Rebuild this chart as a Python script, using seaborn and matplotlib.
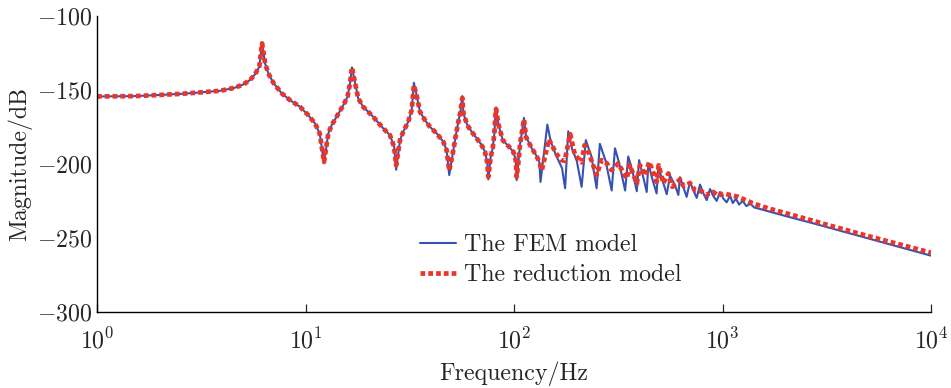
import matplotlib
matplotlib.use("Agg")
import matplotlib.pyplot as plt
import numpy as np
import pandas as pd
import seaborn as sns

# ---- frequency response data (Hz, dB) ----
# band below ~130 Hz, where both models coincide closely
freq_low = [1.0, 1.5, 2.0, 2.5, 3.12, 3.89, 4.59, 5.03, 5.42, 5.72, 6.0, 6.19,
            6.4, 6.63, 7.01, 7.69, 8.43, 9.41, 10.3, 11.1, 11.7, 12.27, 12.86,
            13.35, 14.1, 15.2, 15.9, 16.35, 16.7, 17.3, 17.9, 18.9, 21.1, 23.6,
            25.4, 26.6, 27.2, 28.4, 29.4, 31.1, 32.3, 33.1, 34.1, 35.4, 37.4,
            39.5, 42.6, 45.8, 47.5, 48.9, 51.2, 52.7, 54.1, 55.3, 56.5, 57.2,
            59.7, 62.7, 66.2, 69.5, 72.6, 74.5, 75.3, 77.3, 79.0, 80.5, 81.3,
            82.0, 84.2, 88.3, 94.0, 99.3, 101.9, 103.0, 105.0, 107.0, 108.9,
            111.6, 114.2, 121.7, 127.6]

fem_low_db = [-154.5, -154.3, -153.5, -152.8, -151.8, -150.7, -148.6, -146.4,
              -143.4, -139.6, -134.5, -118.7, -132.2, -138.9, -145.3, -152.4,
              -157.0, -161.5, -167.1, -172.7, -179.5, -199.5, -179.5, -173.9,
              -168.2, -160.3, -154.7, -145.7, -134.9, -145.7, -155.8, -161.5,
              -168.2, -176.1, -180.6, -188.5, -204.0, -184.0, -178.4, -171.6,
              -163.7, -145.3, -153.6, -164.9, -170.5, -175.0, -179.5, -185.1,
              -190.7, -207.6, -190.7, -180.0, -171.5, -165.0, -154.3, -166.0,
              -173.9, -178.4, -182.8, -186.7, -191.9, -199.7, -210.5, -195.3,
              -189.6, -179.5, -168.2, -162.0, -173.4, -184.0, -188.0, -191.9,
              -197.5, -211.0, -198.7, -186.2, -179.5, -169.0, -181.8, -189.6,
              -194.1]

red_low_db = [-154.5, -154.3, -153.5, -152.8, -151.8, -150.7, -148.6, -146.4,
              -143.4, -139.6, -134.5, -118.7, -132.2, -138.9, -145.3, -152.4,
              -157.0, -161.5, -167.1, -172.7, -179.5, -198.7, -179.5, -173.9,
              -168.2, -160.3, -154.7, -145.7, -134.9, -145.7, -155.8, -161.5,
              -168.2, -176.1, -180.6, -188.5, -201.0, -184.0, -178.4, -171.6,
              -163.7, -147.0, -153.6, -164.9, -170.5, -175.0, -179.5, -185.1,
              -190.7, -204.5, -190.7, -180.0, -171.5, -165.0, -155.5, -166.0,
              -173.9, -178.4, -182.8, -186.7, -191.9, -199.7, -208.8, -195.3,
              -189.6, -179.5, -168.2, -163.0, -173.4, -184.0, -188.0, -191.9,
              -197.5, -208.8, -198.7, -186.2, -179.5, -170.0, -181.8, -189.6,
              -194.1]

# band above ~130 Hz, where the dense modes separate the two models
fem_high_f = [132.2, 134.0, 144.5, 150, 160, 170, 175.8, 182, 190, 200, 211,
              221, 235, 249, 258, 275, 294, 305, 320, 341, 353, 370, 388, 398,
              415, 433, 441, 460, 483, 492, 515, 540, 560, 590, 614, 625, 650,
              673, 698, 725, 752, 780, 810, 840, 871, 905, 938, 972, 1010, 1047,
              1087, 1120, 1160, 1200, 1250, 1300, 1360, 1420, 1514, 2000, 2728,
              4000, 6000, 10000]
fem_high_db = [-198.7, -212.2, -173.5, -185, -195, -203, -216.5, -178, -190,
               -198, -215.5, -184, -195, -216.5, -186.5, -198, -218, -189.5,
               -200, -218, -195, -205, -218.5, -197.5, -208, -219, -199.7,
               -210, -220, -202, -211, -220.5, -208, -214, -221, -209, -216,
               -222.3, -212, -218, -223, -214, -220, -224.5, -217, -222, -225,
               -219, -223.5, -226, -221.5, -226.5, -223.5, -227.5, -225.0,
               -228.5, -227.0, -229.5, -230.5, -235.2, -240.2, -246.6, -253.4,
               -262.0]

red_high_f = [132.2, 136, 147, 154, 161, 169, 175, 186, 196, 211, 218, 229,
              249, 263, 278, 294, 316, 347, 359, 388, 402, 425, 445, 483, 494,
              520, 550, 575, 625, 650, 698, 740, 794, 830, 903, 950, 1009,
              1047, 1190, 1405, 1660, 2728, 3215, 5000, 10000]
red_high_db = [-198.7, -204.3, -183.5, -189, -194, -197.5, -198, -180, -194,
               -199, -187.4, -193, -207.6, -197.5, -199.5, -204.3, -199.7,
               -209.9, -200.9, -213.2, -201, -208, -198.7, -212.2, -201, -213,
               -206.5, -215.5, -210.5, -215, -213, -218, -218.5, -221, -219,
               -221.5, -220, -220.5, -222.3, -226.8, -230.1, -238.5, -241.4,
               -248.8, -260.0]

series_labels = ["The FEM model", "The reduction model"]
x_ticks = [1, 10, 100, 1000, 10000]
x_tick_labels = [r"$10^{0}$", r"$10^{1}$", r"$10^{2}$", r"$10^{3}$", r"$10^{4}$"]
y_ticks = [-300, -250, -200, -150, -100]
y_tick_labels = [r"$-300$", r"$-250$", r"$-200$", r"$-150$", r"$-100$"]

fem = pd.DataFrame({"Frequency": freq_low + fem_high_f,
                    "Magnitude": fem_low_db + fem_high_db})
red = pd.DataFrame({"Frequency": freq_low + red_high_f,
                    "Magnitude": red_low_db + red_high_db})

sns.set_style("ticks")
FS = 17.2
plt.rcParams.update({
    "font.family": "serif",
    "font.serif": ["cmr10"],
    "mathtext.fontset": "cm",
    "axes.unicode_minus": False,
    "font.size": FS,
})

fig = plt.figure(figsize=(9.51, 3.88), dpi=100)
ax = fig.add_axes([0.102, 0.196, 0.877, 0.7635])
ax.set_xscale("log")

sns.lineplot(data=fem, x="Frequency", y="Magnitude", ax=ax, estimator=None,
             color="#3652b4", linewidth=1.5, label=series_labels[0])
sns.lineplot(data=red, x="Frequency", y="Magnitude", ax=ax, estimator=None,
             color="#e8362a", linewidth=3.4, linestyle=(0, (1, 0.65)),
             label=series_labels[1])

ax.set_xlim(1, 10000)
ax.set_ylim(-300, -100)
ax.set_xticks(x_ticks)
ax.set_xticklabels(x_tick_labels)
ax.xaxis.set_minor_locator(matplotlib.ticker.NullLocator())
ax.set_yticks(y_ticks)
ax.set_yticklabels(y_tick_labels)
ax.tick_params(axis="x", direction="in", length=6, width=0.9, pad=11.5,
               labelsize=FS)
ax.tick_params(axis="y", direction="in", length=0, pad=3, labelsize=FS)
ax.set_xlabel("Frequency/Hz", fontsize=FS, labelpad=6)
ax.set_ylabel("Magnitude/dB", fontsize=FS, labelpad=4)

for side in ("top", "right"):
    ax.spines[side].set_visible(False)
for side in ("left", "bottom"):
    ax.spines[side].set_linewidth(1.0)
    ax.spines[side].set_color("black")

ax.legend(loc="upper left", bbox_to_anchor=(0.387, 0.262), frameon=False,
          borderpad=0, borderaxespad=0, handlelength=1.5, handletextpad=0.35,
          labelspacing=0.33, fontsize=FS)

fig.savefig("out.png", dpi=100)
